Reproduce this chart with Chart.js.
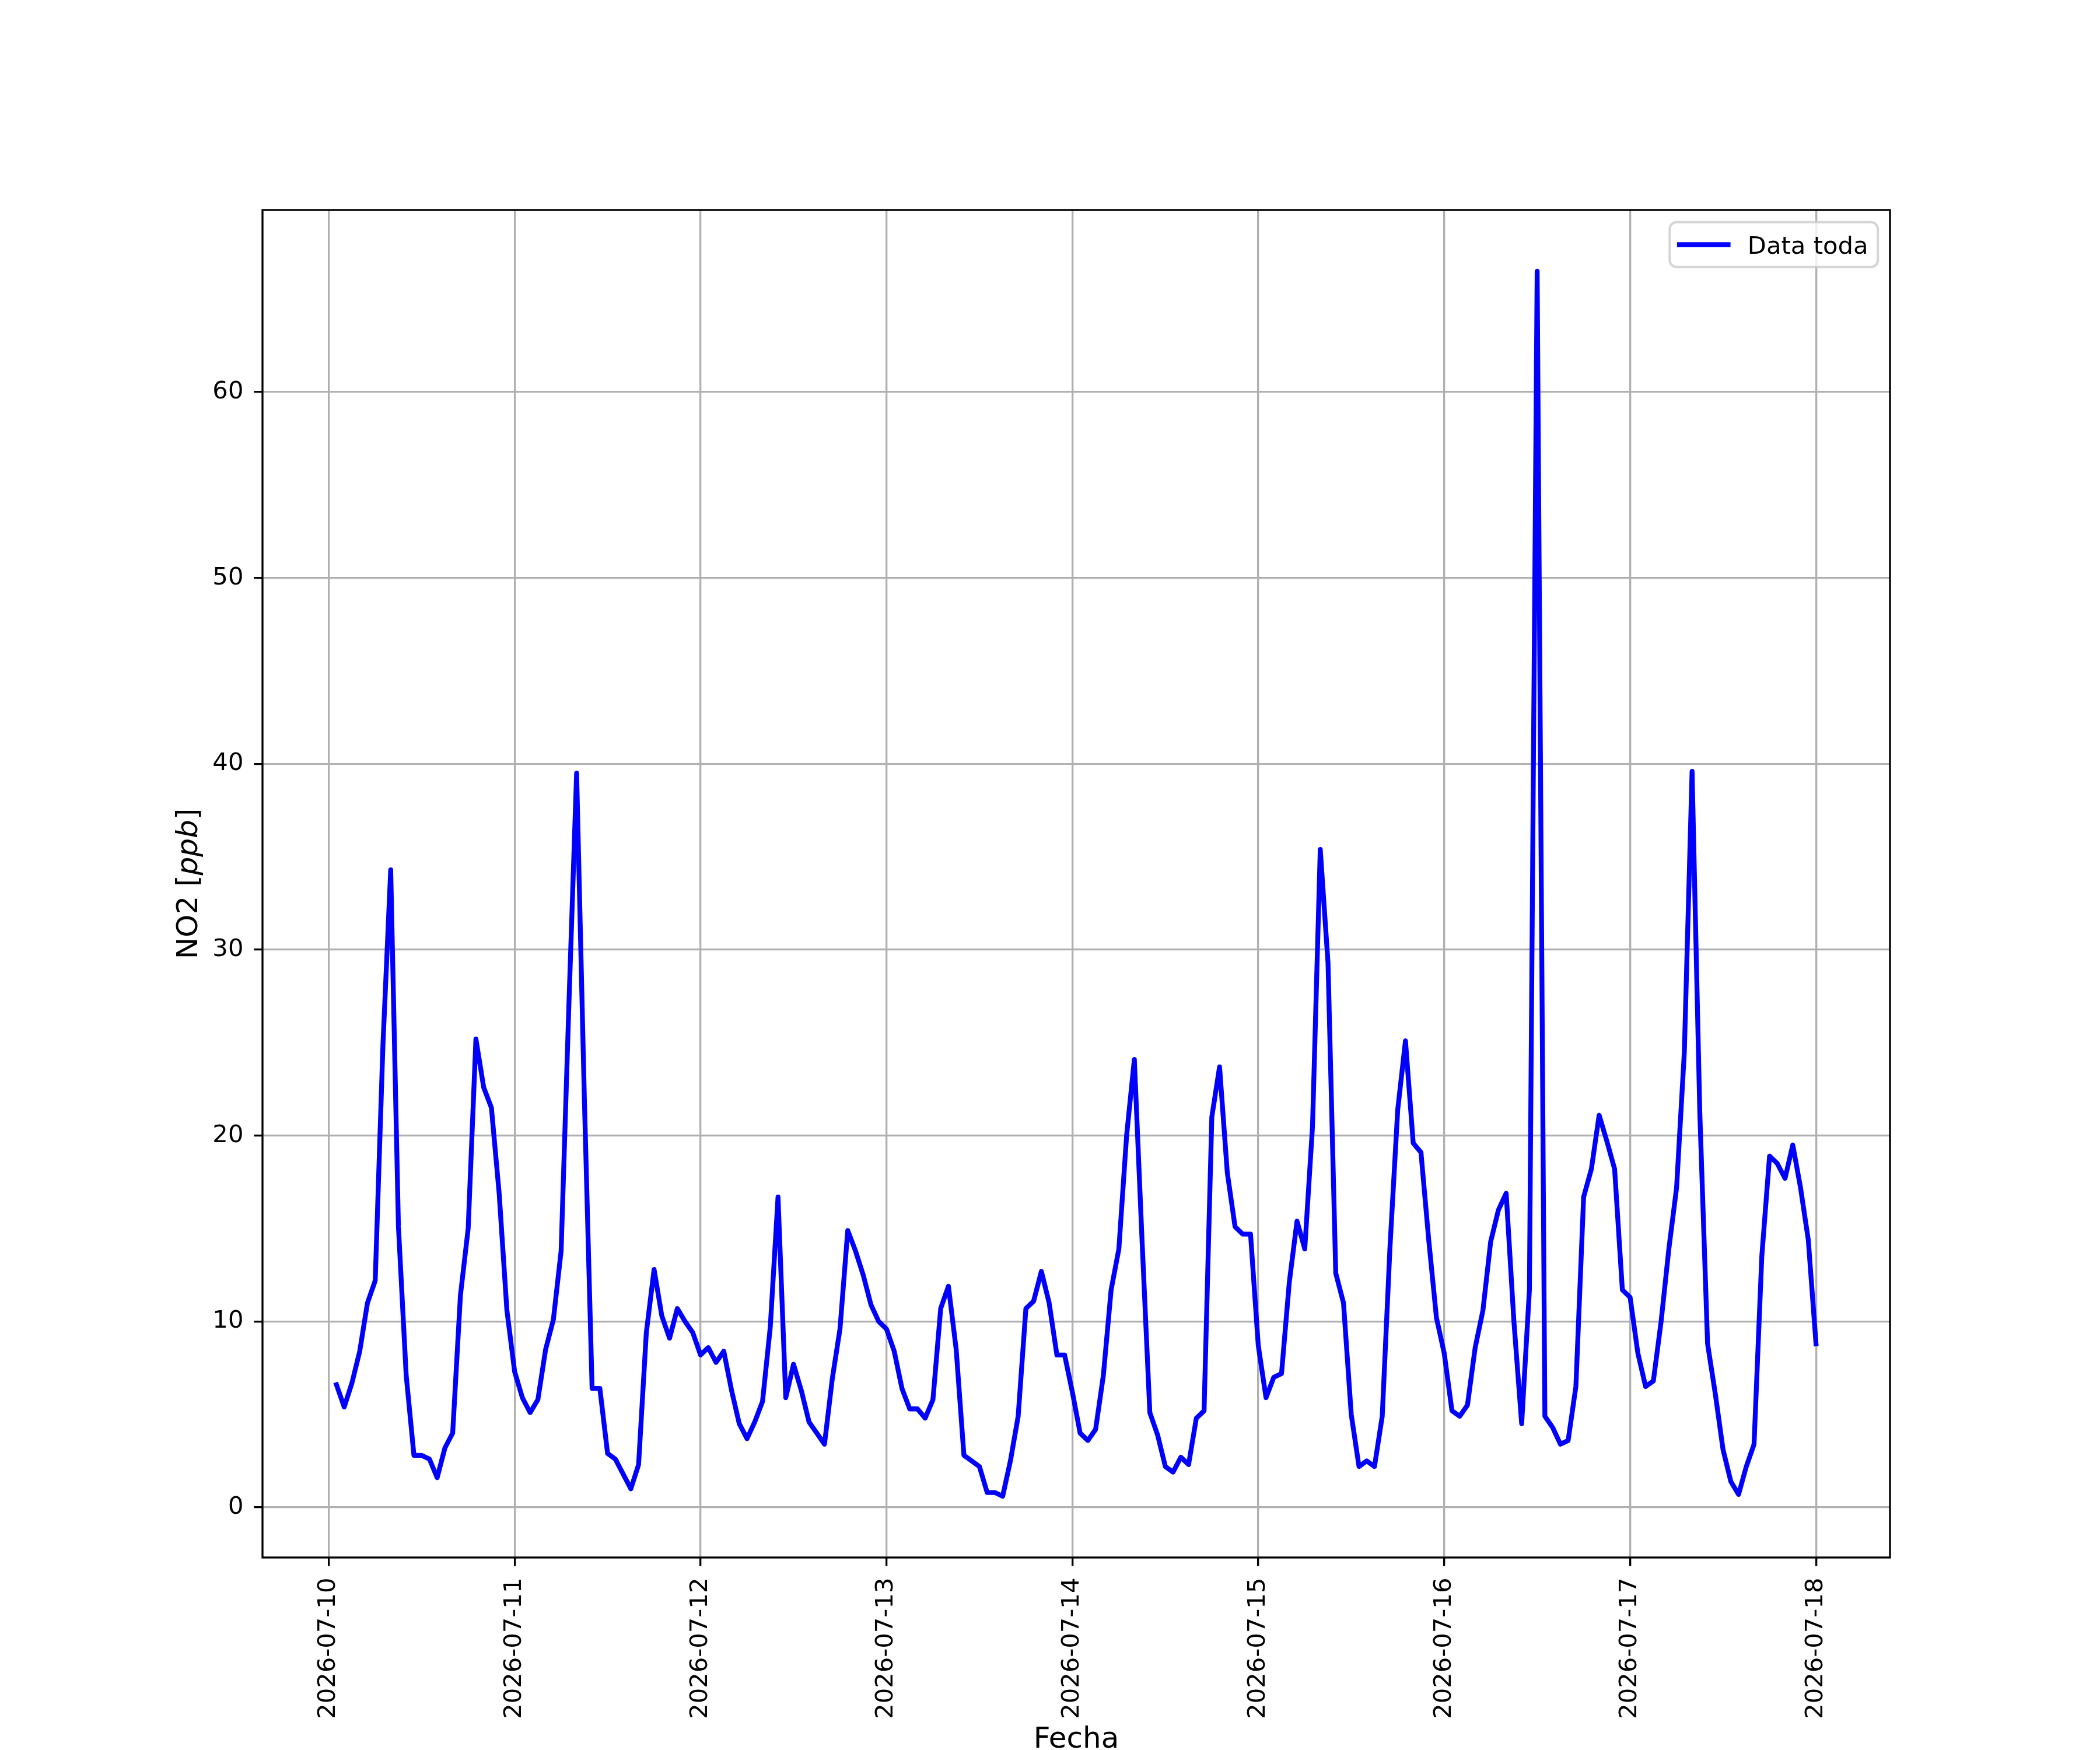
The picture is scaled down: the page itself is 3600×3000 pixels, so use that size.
<!DOCTYPE html>
<html>
<head>
<meta charset="utf-8">
<title>NO2</title>
<script src="https://cdn.jsdelivr.net/npm/chart.js@4.4.1/dist/chart.umd.min.js"></script>
<style>
  html, body { margin: 0; padding: 0; background: #fff; }
  canvas { display: block; }
</style>
</head>
<body>
<canvas id="no2Chart" width="3600" height="3000" style="width:3600px;height:3000px"></canvas>
<script>
// Hourly NO2 readings, first one at 2026-07-10 01:00
const no2 = [
    6.6, 5.4, 6.7, 8.4, 11.0, 12.2, 24.9, 34.3, 15.1, 7.1, 2.8, 2.8,
    2.6, 1.6, 3.2, 4.0, 11.4, 15.0, 25.2, 22.6, 21.5, 16.9, 10.6, 7.3,
    5.9, 5.1, 5.8, 8.5, 10.1, 13.8, 27.0, 39.5, 22.0, 6.4, 6.4, 2.9,
    2.6, 1.8, 1.0, 2.3, 9.4, 12.8, 10.3, 9.1, 10.7, 10.0, 9.4, 8.2,
    8.6, 7.8, 8.4, 6.3, 4.5, 3.7, 4.6, 5.7, 9.7, 16.7, 5.9, 7.7,
    6.3, 4.6, 4.0, 3.4, 6.9, 9.6, 14.9, 13.8, 12.5, 10.9, 10.0, 9.6,
    8.4, 6.4, 5.3, 5.3, 4.8, 5.8, 10.7, 11.9, 8.5, 2.8, 2.5, 2.2,
    0.8, 0.8, 0.6, 2.5, 4.9, 10.7, 11.1, 12.7, 11.0, 8.2, 8.2, 6.2,
    4.0, 3.6, 4.2, 7.1, 11.7, 13.9, 20.0, 24.1, 14.3, 5.1, 3.9, 2.2,
    1.9, 2.7, 2.3, 4.8, 5.2, 21.0, 23.7, 18.0, 15.1, 14.7, 14.7, 8.7,
    5.9, 7.0, 7.2, 12.1, 15.4, 13.9, 20.5, 35.4, 29.3, 12.6, 11.0, 5.0,
    2.2, 2.5, 2.2, 4.9, 14.0, 21.4, 25.1, 19.6, 19.1, 14.4, 10.2, 8.3,
    5.2, 4.9, 5.5, 8.6, 10.6, 14.3, 16.0, 16.9, 10.0, 4.5, 11.7, 66.5,
    4.9, 4.3, 3.4, 3.6, 6.5, 16.7, 18.2, 21.1, 19.7, 18.2, 11.7, 11.3,
    8.3, 6.5, 6.8, 10.0, 13.9, 17.2, 24.5, 39.6, 21.2, 8.8, 6.1, 3.1,
    1.4, 0.7, 2.2, 3.4, 13.5, 18.9, 18.5, 17.7, 19.5, 17.2, 14.4, 8.8
];
const dayLabels = ['2026-07-10', '2026-07-11', '2026-07-12', '2026-07-13', '2026-07-14',
                   '2026-07-15', '2026-07-16', '2026-07-17', '2026-07-18'];
const yTicks = [0, 10, 20, 30, 40, 50, 60];
const seriesName = 'Data toda';

// x in hours since 2026-07-10 00:00
const points = no2.map((v, i) => ({ x: i + 1, y: v }));

// matplotlib style 5% margins
const xLo = 1, xHi = no2.length;
const yLo = Math.min(...no2), yHi = Math.max(...no2);
const xPad = 0.05 * (xHi - xLo), yPad = 0.05 * (yHi - yLo);

const FONT = 'DejaVu Sans';
const TICK_SIZE = 41.7;
const LABEL_SIZE = 50;
const LW = 3.33;

const framePlugin = {
    id: 'frame',
    afterDatasetsDraw(chart) {
        const a = chart.chartArea, ctx = chart.ctx;
        ctx.save();
        ctx.strokeStyle = '#000';
        ctx.lineWidth = LW;
        ctx.strokeRect(a.left, a.top, a.right - a.left, a.bottom - a.top);
        ctx.restore();
    }
};

const legendPlugin = {
    id: 'mplLegend',
    afterDraw(chart) {
        const a = chart.chartArea, ctx = chart.ctx;
        ctx.save();
        ctx.font = TICK_SIZE + 'px "' + FONT + '"';
        const tw = ctx.measureText(seriesName).width;
        const pad = 16.7, handle = 83.4, gap = 33.4;
        const right = a.right - 20.8, top = a.top + 20.8;
        const w = pad + handle + gap + tw + pad, h = 77;
        const left = right - w;
        ctx.beginPath();
        ctx.roundRect(left, top, w, h, 12);
        ctx.fillStyle = 'rgba(255,255,255,0.8)';
        ctx.fill();
        ctx.strokeStyle = 'rgba(204,204,204,0.8)';
        ctx.lineWidth = 4.2;
        ctx.stroke();
        const cy = top + h / 2;
        ctx.beginPath();
        ctx.moveTo(left + pad, cy);
        ctx.lineTo(left + pad + handle, cy);
        ctx.strokeStyle = '#0000ff';
        ctx.lineWidth = 8.3;
        ctx.lineCap = 'square';
        ctx.stroke();
        ctx.fillStyle = '#000';
        ctx.textBaseline = 'alphabetic';
        ctx.fillText(seriesName, left + pad + handle + gap, cy + 15.5);
        ctx.restore();
    }
};

const titlesPlugin = {
    id: 'axisTitles',
    afterDraw(chart) {
        const a = chart.chartArea, ctx = chart.ctx;
        const normal = LABEL_SIZE + 'px "' + FONT + '"';
        const italic = 'italic ' + LABEL_SIZE + 'px "' + FONT + '"';
        ctx.save();
        ctx.fillStyle = '#000';
        ctx.textBaseline = 'alphabetic';
        // x title
        ctx.font = normal;
        ctx.textAlign = 'center';
        ctx.fillText('Fecha', (a.left + a.right) / 2, 2996);
        // y title, "ppb" in italics
        const parts = [['NO2 [', normal], ['ppb', italic], [']', normal]];
        let total = 0;
        parts.forEach(p => { ctx.font = p[1]; total += ctx.measureText(p[0]).width; });
        ctx.translate(338, (a.top + a.bottom) / 2);
        ctx.rotate(-Math.PI / 2);
        ctx.textAlign = 'left';
        let x = -total / 2;
        parts.forEach(p => {
            ctx.font = p[1];
            ctx.fillText(p[0], x, 0);
            x += ctx.measureText(p[0]).width;
        });
        ctx.restore();
    }
};

const ctx = document.getElementById('no2Chart').getContext('2d');
const no2Chart = new Chart(ctx, {
    type: 'line',
    data: {
        datasets: [{
            label: seriesName,
            data: points,
            borderColor: '#0000ff',
            borderWidth: 8.3,
            borderJoinStyle: 'round',
            borderCapStyle: 'square',
            pointRadius: 0,
            tension: 0,
            fill: false
        }]
    },
    options: {
        responsive: false,
        devicePixelRatio: 1,
        animation: false,
        layout: { padding: { left: 0, right: 360, top: 360, bottom: 0 } },
        plugins: {
            legend: { display: false },
            tooltip: { enabled: false }
        },
        scales: {
            x: {
                type: 'linear',
                min: xLo - xPad,
                max: xHi + xPad,
                afterBuildTicks: scale => {
                    scale.ticks = dayLabels.map((d, i) => ({ value: i * 24 }));
                },
                afterFit: scale => { scale.height = 330; },
                ticks: {
                    autoSkip: false,
                    minRotation: 90,
                    maxRotation: 90,
                    padding: 20,
                    color: '#000',
                    font: { family: FONT, size: TICK_SIZE },
                    callback: (value, index) => dayLabels[index]
                },
                grid: {
                    color: '#b0b0b0',
                    lineWidth: LW,
                    drawTicks: true,
                    tickLength: 14.6,
                    tickColor: '#000',
                    tickWidth: LW
                },
                border: { display: false }
            },
            y: {
                type: 'linear',
                min: yLo - yPad,
                max: yHi + yPad,
                afterBuildTicks: scale => {
                    scale.ticks = yTicks.map(v => ({ value: v }));
                },
                afterFit: scale => { scale.width = 450; },
                ticks: {
                    padding: 18,
                    color: '#000',
                    font: { family: FONT, size: TICK_SIZE },
                    callback: value => String(value)
                },
                grid: {
                    color: '#b0b0b0',
                    lineWidth: LW,
                    drawTicks: true,
                    tickLength: 14.6,
                    tickColor: '#000',
                    tickWidth: LW
                },
                border: { display: false }
            }
        }
    },
    plugins: [framePlugin, legendPlugin, titlesPlugin]
});
</script>
</body>
</html>
